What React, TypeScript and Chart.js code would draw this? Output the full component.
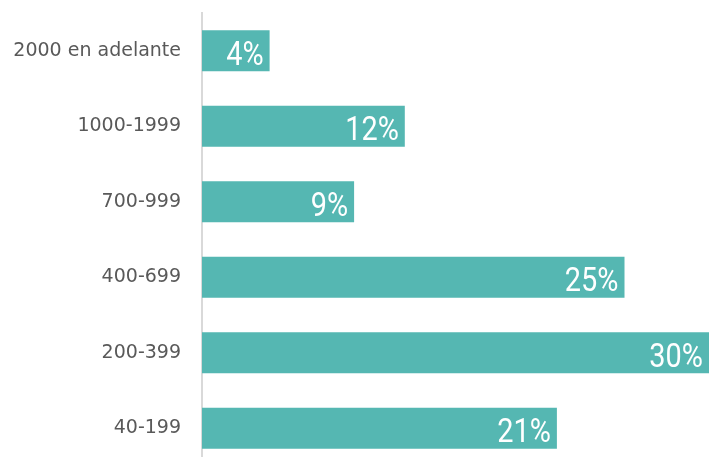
import React, { useEffect, useRef } from "react";
import { Chart, registerables } from "chart.js";

Chart.register(...registerables);

const categories = ["2000 en adelante", "1000-1999", "700-999", "400-699", "200-399", "40-199"];
const values = [4, 12, 9, 25, 30, 21];
const valueLabels = ["4%", "12%", "9%", "25%", "30%", "21%"];

const BAR_COLOR = "#55B7B2";

const labelPlugin = {
  id: "barLabels",
  afterDatasetsDraw(chart: any) {
    const ctx = chart.ctx;
    const meta = chart.getDatasetMeta(0);
    ctx.save();
    ctx.fillStyle = "#ffffff";
    ctx.font = "400 34px Roboto";
    ctx.textAlign = "right";
    ctx.textBaseline = "alphabetic";
    meta.data.forEach((bar: any, i: number) => {
      const xr = bar.x - 6;
      const y = bar.y + 14;
      ctx.save();
      ctx.translate(xr, y);
      ctx.scale(0.85, 1);
      ctx.fillText(valueLabels[i], 0, 0);
      ctx.restore();
    });
    ctx.restore();
  },
};

export default function App() {
  const ref = useRef<HTMLCanvasElement | null>(null);
  useEffect(() => {
    if (!ref.current) return;
    const chart = new Chart(ref.current, {
      type: "bar",
      data: {
        labels: categories,
        datasets: [
          {
            data: values,
            backgroundColor: BAR_COLOR,
            borderWidth: 0,
            barPercentage: 0.545,
            categoryPercentage: 1,
          },
        ],
      },
      options: {
        indexAxis: "y",
        responsive: false,
        animation: false,
        devicePixelRatio: 1,
        layout: { padding: { top: 13, right: 0, bottom: 0, left: 0 } },
        plugins: { legend: { display: false }, tooltip: { enabled: false } },
        scales: {
          x: { display: false, min: 0, max: 30 },
          y: {
            afterFit: (scale: any) => {
              scale.width = 202;
              scale.paddingTop = 0;
              scale.paddingBottom = 0;
            },
            grid: { display: false, drawTicks: false },
            border: { display: true, color: "#d9d9d9", width: 2 },
            ticks: {
              padding: 21,
              color: "#595959",
              font: { family: "DejaVu Sans", size: 19 },
            },
          },
        },
      },
      plugins: [labelPlugin],
    } as any);
    return () => chart.destroy();
  }, []);
  return (
    <div style={{ position: "absolute", left: 0, top: 0, width: 709, height: 457, overflow: "hidden", background: "#fff" }}>
      <canvas ref={ref} width={709} height={466} style={{ width: 709, height: 466, display: "block" }} />
    </div>
  );
}
